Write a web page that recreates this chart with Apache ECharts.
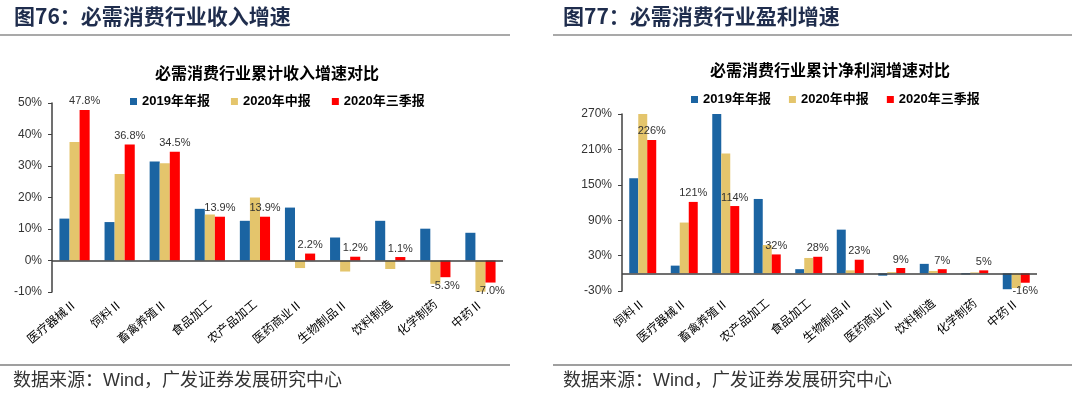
<!DOCTYPE html>
<html>
<head>
<meta charset="utf-8">
<script src="https://cdn.jsdelivr.net/npm/echarts@6/dist/echarts.min.js"></script>
<style>
  html, body { margin: 0; padding: 0; background: #fff; }
  #main { width: 1080px; height: 397px; }
</style>
</head>
<body>
<div id="main"></div>
<script>
// series names / colours
var seriesNames = ['2019年年报', '2020年中报', '2020年三季报'];
var barColors = ['#1b64a2', '#e4c56c', '#ff0000'];

// 图76 收入增速 (%)
var catsIncome = ['医疗器械Ⅱ', '饲料Ⅱ', '畜禽养殖Ⅱ', '食品加工', '农产品加工', '医药商业Ⅱ', '生物制品Ⅱ', '饮料制造', '化学制药', '中药Ⅱ'];
var income2019 = [13.3, 12.2, 31.4, 16.4, 12.6, 16.8, 7.3, 12.6, 10.1, 8.8];
var income2020H1 = [37.6, 27.5, 30.9, 14.6, 20.0, -2.4, -3.5, -2.7, -7.4, -9.9];
var income2020Q3 = [47.8, 36.8, 34.5, 13.9, 13.9, 2.2, 1.2, 1.1, -5.3, -7.0];
var incomeTicks = { min: -10, max: 50, interval: 10 };

// 图77 盈利增速 (%)
var catsProfit = ['饲料Ⅱ', '医疗器械Ⅱ', '畜禽养殖Ⅱ', '农产品加工', '食品加工', '生物制品Ⅱ', '医药商业Ⅱ', '饮料制造', '化学制药', '中药Ⅱ'];
var profit2019 = [161, 13, 270, 126, 7, 74, -4, 16, -2, -27];
var profit2020H1 = [270, 86, 203, 48, 26, 5, 2, 4, 1.5, -25];
var profit2020Q3 = [226, 121, 114, 32, 28, 23, 9, 7, 5, -16];
var profitTicks = { min: -30, max: 270, interval: 60 };

var numFont = 'Liberation Sans, Arial, Noto Sans CJK SC';
var cjkFont = 'Noto Sans CJK SC';

var chart = echarts.init(document.getElementById('main'));

// 数据标签只标在三季报上，正值在上、负值在下
function labelled(values, fmt) {
  return values.map(function (v) {
    return {
      value: v,
      label: {
        show: true,
        position: v >= 0 ? 'top' : 'bottom',
        distance: 3,
        formatter: fmt(v),
        color: '#333',
        fontSize: 11,
        fontFamily: numFont
      }
    };
  });
}

function makeSeries(lists, idx, gap, fmt) {
  return lists.map(function (vals, i) {
    var s = {
      name: seriesNames[i],
      type: 'bar',
      xAxisIndex: idx,
      yAxisIndex: idx,
      barGap: 0,
      barCategoryGap: gap,
      itemStyle: { color: barColors[i] },
      data: i === 2 ? labelled(vals, fmt) : vals
    };
    if (i === 0) {
      s.markLine = {
        silent: true,
        symbol: 'none',
        label: { show: false },
        lineStyle: { color: '#404040', width: 1.5, type: 'solid' },
        data: [{ yAxis: 0 }]
      };
    }
    return s;
  });
}

function xAxisOf(cats, idx) {
  return {
    type: 'category',
    gridIndex: idx,
    data: cats,
    axisLine: { show: false, onZero: false },
    axisTick: { show: false },
    axisLabel: { rotate: 40, margin: 10, fontSize: 12, color: '#000', fontFamily: cjkFont, interval: 0 }
  };
}

function yAxisOf(t, idx) {
  return {
    type: 'value',
    gridIndex: idx,
    min: t.min, max: t.max, interval: t.interval,
    splitLine: { show: false },
    axisLine: { show: true, lineStyle: { color: '#404040', width: 1.5 } },
    axisTick: { show: true, length: 4, lineStyle: { color: '#404040' } },
    axisLabel: { formatter: '{value}%', margin: 10, fontSize: 12, color: '#333', fontFamily: numFont }
  };
}

var headStyle = { fill: '#1f2d4d', fontSize: 21, fontWeight: 'bold', fontFamily: cjkFont };
var footStyle = { fill: '#333', fontSize: 18, fontFamily: numFont };

var option = {
  animation: false,
  textStyle: { fontFamily: cjkFont },
  title: [
    { text: '必需消费行业累计收入增速对比', left: 262, top: 60, textAlign: 'center',
      textStyle: { fontSize: 16, fontWeight: 'bold', color: '#000' } },
    { text: '必需消费行业累计净利润增速对比', left: 825, top: 57, textAlign: 'center',
      textStyle: { fontSize: 16, fontWeight: 'bold', color: '#000' } }
  ],
  legend: [
    { data: seriesNames, left: 125, top: 90, icon: 'rect', itemWidth: 7, itemHeight: 7, itemGap: 21,
      textStyle: { fontSize: 13, fontWeight: 'bold', color: '#000', fontFamily: numFont } },
    { data: seriesNames, left: 686, top: 88, icon: 'rect', itemWidth: 7, itemHeight: 7, itemGap: 18,
      textStyle: { fontSize: 13, fontWeight: 'bold', color: '#000', fontFamily: numFont } }
  ],
  grid: [
    { left: 52, top: 103, width: 451, height: 189 },
    { left: 622, top: 114, width: 415, height: 177 }
  ],
  xAxis: [xAxisOf(catsIncome, 0), xAxisOf(catsProfit, 1)],
  yAxis: [yAxisOf(incomeTicks, 0), yAxisOf(profitTicks, 1)],
  series: makeSeries([income2019, income2020H1, income2020Q3], 0, '33%',
      function (v) { return v.toFixed(1) + '%'; })
    .concat(makeSeries([profit2019, profit2020H1, profit2020Q3], 1, '35%',
      function (v) { return Math.round(v) + '%'; })),
  graphic: [
    { type: 'text', left: 14, top: 6, style: Object.assign({ text: '图76：必需消费行业收入增速' }, headStyle) },
    { type: 'text', left: 563, top: 6, style: Object.assign({ text: '图77：必需消费行业盈利增速' }, headStyle) },
    { type: 'line', shape: { x1: 0, y1: 35, x2: 510, y2: 35 }, style: { stroke: '#8c8c8c', lineWidth: 1.5 } },
    { type: 'line', shape: { x1: 553, y1: 35, x2: 1072, y2: 35 }, style: { stroke: '#8c8c8c', lineWidth: 1.5 } },
    { type: 'line', shape: { x1: 0, y1: 365, x2: 510, y2: 365 }, style: { stroke: '#404040', lineWidth: 1.2 } },
    { type: 'line', shape: { x1: 553, y1: 365, x2: 1072, y2: 365 }, style: { stroke: '#404040', lineWidth: 1.2 } },
    { type: 'text', left: 13, top: 372, style: Object.assign({ text: '数据来源：Wind，广发证券发展研究中心' }, footStyle) },
    { type: 'text', left: 563, top: 372, style: Object.assign({ text: '数据来源：Wind，广发证券发展研究中心' }, footStyle) }
  ]
};

chart.setOption(option);
</script>
</body>
</html>
